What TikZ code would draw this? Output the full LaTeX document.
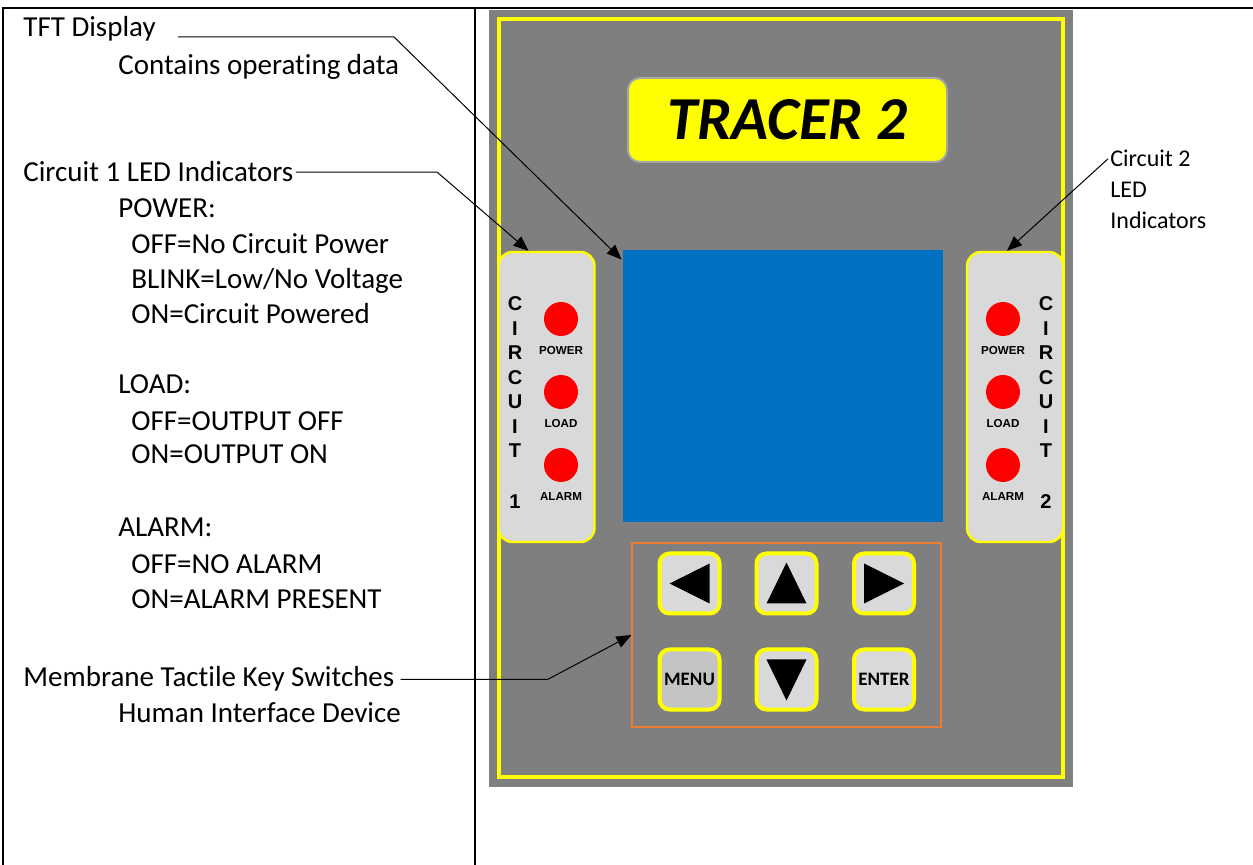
\documentclass[tikz,border=0pt]{standalone}
\usepackage{fontspec}
\setmainfont{Carlito}[Ligatures=NoCommon]
\newfontfamily\arialfont{Liberation Sans}
\usetikzlibrary{arrows.meta}
\definecolor{panelgray}{HTML}{7F7F7F}
\definecolor{softgray}{HTML}{D9D9D9}
\definecolor{menugray}{HTML}{C4C4C4}
\definecolor{lcdblue}{HTML}{0070C0}
\definecolor{frameyellow}{HTML}{FFFF00}
\definecolor{padorange}{HTML}{ED7D31}
\definecolor{ledred}{HTML}{FF0000}

\begin{document}
\begin{tikzpicture}[x=0.5pt,y=-0.5pt,
	note/.style={anchor=base west,inner sep=0pt,font=\fontsize{14.5}{17}\selectfont},
	smallnote/.style={anchor=base west,inner sep=0pt,font=\fontsize{12}{14}\selectfont},
	callout/.style={draw,line width=0.5pt,-{Triangle[length=7.5pt,width=6pt]}},
	ledpanel/.style={draw=frameyellow,line width=1.2pt,fill=softgray,rounded corners=7pt,minimum width=48pt,minimum height=145pt,inner sep=0pt},
	padkey/.style={draw=frameyellow,line width=2pt,fill=softgray,rounded corners=5pt,minimum size=30pt,inner sep=0pt,font=\fontsize{9.5}{10}\selectfont\bfseries},
	ledtag/.style={inner sep=0pt,font=\arialfont\bfseries\fontsize{5.8}{6}\selectfont},
	letter/.style={inner sep=0pt,font=\arialfont\bfseries\fontsize{10}{10}\selectfont}]
	\useasboundingbox (0,0) rectangle (1253,865);
	\draw[line width=1pt] (3,865) -- (3,8) -- (1253,8);
	\draw[line width=1pt] (475,8) -- (475,865);

	\fill[panelgray] (489,10) rectangle (1073,787);
	\draw[frameyellow,line width=2pt] (499,19) rectangle (1063,777);
	\node[draw=gray!70,line width=1pt,fill=frameyellow,rounded corners=6pt,minimum width=159.5pt,minimum height=42pt,font=\fontsize{30.5}{31}\selectfont\bfseries\itshape] (logo) at (787.5,120) {TRACER 2};
	\node[fill=lcdblue,minimum width=160pt,minimum height=136pt,inner sep=0pt] (screen) at (783,386) {};
	\node[ledpanel] (led1) at (546.5,397) {};
	\node[ledpanel] (led2) at (1015,397) {};
	\foreach \x/\t in {515/1,1046/2} {
		\foreach \c [count=\i] in {C,I,R,C,U,I,T} \node[letter] at (\x,{304+24.5*(\i-1)}) {\c};
		\node[letter] at (\x,502) {\t};
	}
	\foreach \x in {561,1003}
		\foreach \y/\t in {319/POWER,392/LOAD,465/ALARM} {
			\fill[ledred] (\x,\y) circle (8.5pt);
			\node[ledtag] at (\x,\y+32) {\t};
		}

	\node[draw=padorange,line width=0.6pt,minimum width=154.5pt,minimum height=92pt,inner sep=0pt] (keypad) at (786.5,635) {};
	\node[padkey] (kleft) at (689.5,583.5) {};
	\node[padkey] (kup) at (786.5,583.5) {};
	\node[padkey] (kright) at (884,583.5) {};
	\node[padkey,fill=menugray] (kmenu) at (689.5,679.5) {MENU};
	\node[padkey] (kdown) at (786.5,679.5) {};
	\node[padkey] (kenter) at (884,679.5) {ENTER};
	\fill (kleft.center) ++(-20,0) -- ++(40,-20) -- ++(0,40) -- cycle;
	\fill (kright.center) ++(20,0) -- ++(-40,-20) -- ++(0,40) -- cycle;
	\fill (kup.center) ++(0,-21) -- ++(20,41) -- ++(-40,0) -- cycle;
	\fill (kdown.center) ++(0,21) -- ++(20,-41) -- ++(-40,0) -- cycle;

	\node[note] (tft) at (23,37) {TFT Display};
	\node[note] (tftsub) at (118,75) {Contains operating data};
	\node[note] (c1) at (23,182) {Circuit 1 LED Indicators};
	\foreach \x/\y/\t [count=\i] in {118/218/POWER:,131/254/OFF=No Circuit Power,131/289/{BLINK=Low/No Voltage},131/324/ON=Circuit Powered,118/394/LOAD:,131/431/OFF=OUTPUT OFF,131/464/ON=OUTPUT ON,118/537/ALARM:,131/574/OFF=NO ALARM,131/609/ON=ALARM PRESENT}
		\node[note] (c1line\i) at (\x,\y) {\t};
	\node[note] (memb) at (23,687) {Membrane Tactile Key Switches};
	\node[note] (membsub) at (118,722) {Human Interface Device};
	\node[smallnote] (c2) at (1110,167) {Circuit 2};
	\node[smallnote] (c2led) at (1110,198) {LED};
	\node[smallnote] (c2ind) at (1110,229) {Indicators};

	\draw[callout] ([xshift=11pt]tft.base east) -- (394,0 |- tft.base east) -- ([shift={(-1,10)}]screen.north west);
	\draw[callout] ([xshift=1pt]c1.east) -- (437,0 |- c1.east) -- ([xshift=-9pt]led1.north);
	\draw[callout] ([xshift=-1pt]c2.west) -- ([xshift=-4pt]led2.north);
	\draw[callout] ([xshift=3pt]memb.east) -- (548,0 |- memb.east) -- (keypad.west);
\end{tikzpicture}
\end{document}
